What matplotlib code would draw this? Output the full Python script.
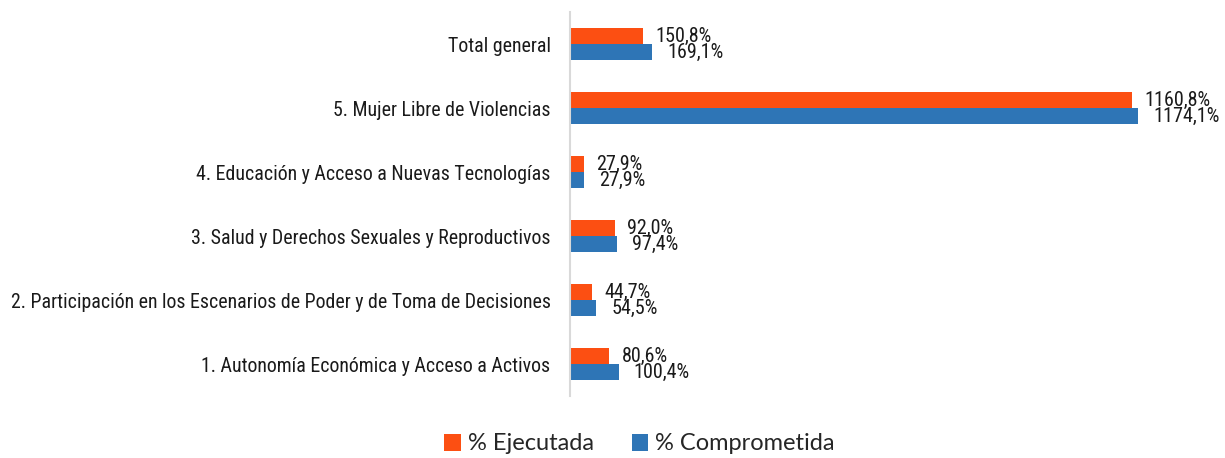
import numpy as np
import matplotlib
matplotlib.use("Agg")
import matplotlib.pyplot as plt

# Data (bottom to top as drawn)
categories = [
    "1. Autonomía Económica y Acceso a Activos",
    "2. Participación en los Escenarios de Poder y de Toma de Decisiones",
    "3. Salud y Derechos Sexuales y Reproductivos",
    "4. Educación y Acceso a Nuevas Tecnologías",
    "5. Mujer Libre de Violencias",
    "Total general",
]
ejecutada = [80.6, 44.7, 92.0, 27.9, 1160.8, 150.8]
comprometida = [100.4, 54.5, 97.4, 27.9, 1174.1, 169.1]

c_ejec = "#FC4F12"
c_comp = "#2E75B6"
narrow = ["Roboto Condensed", "DejaVu Sans"]

fig = plt.figure(figsize=(12.25, 4.58), dpi=100)
ax = fig.add_axes([570 / 1225, 1 - 396 / 458, 620 / 1225, 384 / 458])

y = np.arange(len(categories))
h = 0.25
b1 = ax.barh(y + h / 2, ejecutada, height=h, color=c_ejec, label="% Ejecutada")
b2 = ax.barh(y - h / 2, comprometida, height=h, color=c_comp, label="% Comprometida")

def fmt(v):
    return f"{v:.1f}%".replace(".", ",")

# value labels next to each bar
for bars, vals, off in ((b1, ejecutada, 9), (b2, comprometida, 11)):
    for bar, v in zip(bars, vals):
        ax.annotate(fmt(v), (bar.get_width(), bar.get_y() + bar.get_height() / 2),
                    xytext=(off, 0), textcoords="offset points", va="center", ha="left",
                    fontsize=14.5, family=narrow, color="#1a1a1a")

ax.set_xlim(0, 1281)
ax.set_ylim(-0.5, 5.5)
ax.set_yticks(y)
ax.set_yticklabels(categories, fontsize=14.3, family=narrow, color="#1a1a1a")
ax.tick_params(axis="y", length=0, pad=14)
ax.set_xticks([])
for s in ("top", "right", "bottom"):
    ax.spines[s].set_visible(False)
ax.spines["left"].set_color("#D9D9D9")
ax.spines["left"].set_linewidth(1.5)

leg = fig.legend(handles=[b1, b2], loc="center", bbox_to_anchor=(0.522, 1 - 444 / 458),
                 ncol=2, frameon=False, handlelength=0.7, handleheight=0.7,
                 handletextpad=0.3, columnspacing=1.6,
                 prop={"family": ["Lato", "DejaVu Sans"], "size": 17})
for t in leg.get_texts():
    t.set_color("#262626")

fig.savefig("out.png", dpi=100)
